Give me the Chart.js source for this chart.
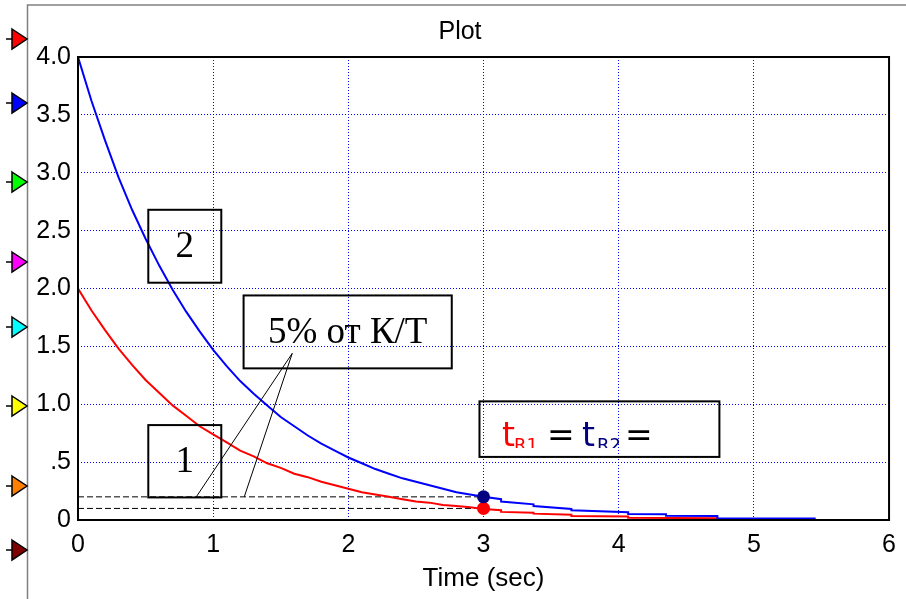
<!DOCTYPE html>
<html>
<head>
<meta charset="utf-8">
<script src="https://cdn.jsdelivr.net/npm/chart.js@4/dist/chart.umd.min.js"></script>
<style>
  html, body { margin: 0; padding: 0; background: #fff; }
  canvas { display: block; }
</style>
</head>
<body>
<canvas id="plot" width="906" height="599"></canvas>
<script>
// curve 1 (K=2) and curve 2 (K=4)
const redT = [0, 0.1, 0.2, 0.3, 0.4, 0.5, 0.6, 0.7, 0.8, 0.9, 1.0, 1.1, 1.2, 1.3, 1.4, 1.5, 1.6, 1.7, 1.8, 1.9,
              2.0, 2.1, 2.2, 2.3, 2.4, 2.5, 2.6, 2.7, 2.8, 2.9,
              3.0, 3.13, 3.13, 3.37, 3.37, 3.65, 3.65, 4.07, 4.07, 4.73, 4.73, 6];
const redY = [2.0, 1.81, 1.64, 1.48, 1.34, 1.21, 1.10, 0.99, 0.90, 0.81, 0.74, 0.67, 0.60, 0.55, 0.49, 0.45, 0.40, 0.37, 0.33, 0.30,
              0.27, 0.24, 0.22, 0.20, 0.18, 0.16, 0.15, 0.13, 0.12, 0.11,
              0.095, 0.085, 0.07, 0.062, 0.055, 0.045, 0.035, 0.03, 0.02, 0.016, 0, 0];
const blueT = [0, 0.1, 0.2, 0.3, 0.4, 0.5, 0.6, 0.7, 0.8, 0.9, 1.0, 1.1, 1.2, 1.3, 1.4, 1.5, 1.6, 1.7, 1.8, 1.9,
               2.0, 2.1, 2.2, 2.3, 2.4, 2.5, 2.6, 2.7, 2.8, 2.9,
               3.0, 3.13, 3.13, 3.37, 3.37, 3.65, 3.65, 4.07, 4.07, 4.35, 4.35, 4.73, 4.73, 5.45, 5.45, 6];
const blueY = [4.0, 3.62, 3.28, 2.96, 2.68, 2.43, 2.20, 1.99, 1.80, 1.63, 1.47, 1.33, 1.20, 1.09, 0.99, 0.89, 0.81, 0.73, 0.66, 0.60,
               0.54, 0.49, 0.44, 0.40, 0.36, 0.33, 0.30, 0.27, 0.24, 0.22,
               0.20, 0.18, 0.16, 0.135, 0.12, 0.095, 0.085, 0.068, 0.052, 0.05, 0.037, 0.034, 0.015, 0.013, 0, 0];

// 5% levels and the settling time
const refLevels = [0.2, 0.1];
const settleT = 3;

const xTicks = [0, 1, 2, 3, 4, 5, 6];
const yTickLabels = ['0', '.5', '1.0', '1.5', '2.0', '2.5', '3.0', '3.5', '4.0'];
const markerColors = ['#ff0000', '#0000ff', '#00ff00', '#ff00ff', '#00ffff', '#ffff00', '#ff8000', '#800000'];

const sansFont = '"Liberation Sans", Arial, sans-serif';
const serifFont = '"Liberation Serif", "Times New Roman", serif';

function toPts(ts, ys) {
    return ts.map((t, i) => ({ x: t, y: ys[i] }));
}

// frame, side markers, boxes and labels
const decorPlugin = {
    id: 'decor',
    beforeDraw(chart) {
        const c = chart.ctx;
        c.save();
        c.fillStyle = '#fff';
        c.fillRect(0, 0, chart.width, chart.height);
        c.restore();
    },
    afterDraw(chart) {
        const c = chart.ctx;
        const xs = chart.scales.x, ys = chart.scales.y;
        const a = chart.chartArea;
        const px = v => xs.getPixelForValue(v);
        const py = v => ys.getPixelForValue(v);

        c.save();
        // gray window frame
        c.strokeStyle = '#808080';
        c.lineWidth = 1.5;
        c.beginPath();
        c.moveTo(27.5, 599); c.lineTo(27.5, 5); c.lineTo(906, 5);
        c.stroke();

        // side markers
        const mY = [39, 103, 182, 262, 327, 406, 486, 550];
        markerColors.forEach((col, i) => {
            const y = mY[i];
            c.strokeStyle = '#000';
            c.lineWidth = 1.5;
            c.beginPath(); c.moveTo(6, y); c.lineTo(13, y); c.stroke();
            c.beginPath();
            c.moveTo(12, y - 10); c.lineTo(27, y); c.lineTo(12, y + 10); c.closePath();
            c.fillStyle = col; c.fill();
            c.lineWidth = 1.5; c.stroke();
        });

        // plot frame
        c.strokeStyle = '#000';
        c.lineWidth = 2;
        c.strokeRect(a.left, a.top, a.right - a.left, a.bottom - a.top);

        // boxes
        const box = (x0, y0, x1, y1) => {
            c.lineWidth = 2;
            c.strokeStyle = '#000';
            c.strokeRect(px(x0), py(y0), px(x1) - px(x0), py(y1) - py(y0));
        };
        box(0.52, 2.68, 1.06, 2.05);
        box(0.52, 0.82, 1.06, 0.195);
        box(1.225, 1.94, 2.765, 1.31);
        box(2.97, 1.025, 4.745, 0.545);

        // pointer lines
        c.lineWidth = 1;
        c.beginPath();
        c.moveTo(px(1.585), py(1.44)); c.lineTo(px(0.875), py(0.2));
        c.moveTo(px(1.585), py(1.44)); c.lineTo(px(1.23), py(0.2));
        c.stroke();

        // box texts
        c.fillStyle = '#000';
        c.textAlign = 'center';
        c.textBaseline = 'alphabetic';
        c.font = '37px ' + serifFont;
        c.fillText('2', px(0.79), py(2.27));
        c.fillText('1', px(0.79), py(0.415));
        c.fillText('5% от К/Т', px(1.995), py(1.53));

        // t_R1 = t_R2 =
        c.save();
        c.beginPath();
        c.rect(px(2.97) + 2, py(1.025) + 2, px(4.745) - px(2.97) - 4, 448 - py(1.025) - 2);
        c.clip();
        c.textAlign = 'left';
        const base = 446;
        c.font = '33px "DejaVu Sans", sans-serif';
        c.fillStyle = '#ff0000';
        c.fillText('t', 502, base);
        c.font = '18px "DejaVu Sans", sans-serif';
        c.fillText('R1', 514, base + 5);
        c.fillStyle = '#000';
        c.font = '33px "DejaVu Sans", sans-serif';
        c.fillText('=', 547, base);
        c.fillStyle = '#000080';
        c.fillText('t', 582, base);
        c.font = '18px "DejaVu Sans", sans-serif';
        c.fillText('R2', 597, base + 5);
        c.fillStyle = '#000';
        c.font = '33px "DejaVu Sans", sans-serif';
        c.fillText('=', 625, base);
        c.restore();

        c.restore();
    }
};

const gridColor = c => (c.index === 0 || c.index === c.scale.ticks.length - 1) ? 'rgba(0,0,0,0)' : '#0000ff';

new Chart(document.getElementById('plot'), {
    type: 'line',
    data: {
        datasets: [
            { data: [{ x: settleT, y: refLevels[0] }], showLine: false, pointRadius: 6.5, pointBackgroundColor: '#000080', pointBorderWidth: 0, order: 0 },
            { data: [{ x: settleT, y: refLevels[1] }], showLine: false, pointRadius: 6.5, pointBackgroundColor: '#ff0000', pointBorderWidth: 0, order: 0 },
            { data: toPts(blueT, blueY), borderColor: '#0000ff', borderWidth: 2, pointRadius: 0, tension: 0, order: 1 },
            { data: toPts(redT, redY), borderColor: '#ff0000', borderWidth: 2, pointRadius: 0, tension: 0, order: 2 },
            { data: [{ x: 0, y: refLevels[0] }, { x: settleT, y: refLevels[0] }], borderColor: '#000', borderWidth: 1, borderDash: [6, 3], pointRadius: 0, order: 3 },
            { data: [{ x: 0, y: refLevels[1] }, { x: settleT, y: refLevels[1] }], borderColor: '#000', borderWidth: 1, borderDash: [6, 3], pointRadius: 0, order: 3 }
        ]
    },
    options: {
        responsive: false,
        animation: false,
        devicePixelRatio: 1,
        layout: { padding: { left: 28, right: 14, top: 6, bottom: 0 } },
        plugins: {
            legend: { display: false },
            tooltip: { enabled: false },
            title: {
                display: true,
                text: 'Plot',
                color: '#000',
                font: { family: sansFont, size: 25, weight: 'normal' },
                padding: { top: 11, bottom: 10 }
            }
        },
        scales: {
            x: {
                type: 'linear',
                min: 0, max: 6,
                afterBuildTicks: s => { s.ticks = xTicks.map(v => ({ value: v })); },
                afterFit: s => { s.height = 79; },
                ticks: { color: '#000', font: { family: sansFont, size: 25 }, padding: 10, maxRotation: 0 },
                grid: { color: gridColor, lineWidth: 1, drawTicks: false },
                border: { display: false, dash: [1, 2] },
                title: { display: true, text: 'Time (sec)', color: '#000', font: { family: sansFont, size: 26 }, padding: { top: 2, bottom: 5 } }
            },
            y: {
                min: 0, max: 4,
                ticks: { stepSize: 0.5, color: '#000', font: { family: sansFont, size: 25 }, padding: 7,
                         callback: (v, i) => yTickLabels[i] },
                grid: { color: gridColor, lineWidth: 1, drawTicks: false },
                border: { display: false, dash: [1, 2] },
                afterFit: s => { s.width = 50; }
            }
        }
    },
    plugins: [decorPlugin]
});
</script>
</body>
</html>
